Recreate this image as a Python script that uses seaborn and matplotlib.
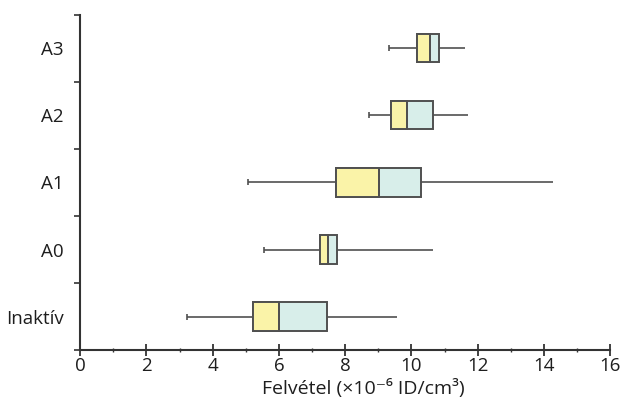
import numpy as np
import pandas as pd
import matplotlib
matplotlib.use("Agg")
import matplotlib.pyplot as plt
import seaborn as sns
from matplotlib.ticker import MultipleLocator

categories = ["A3", "A2", "A1", "A0", "Inaktív"]
whisk_lo = [9.33, 8.72, 5.07, 5.55, 3.23]
q1 = [10.17, 9.39, 7.73, 7.25, 5.22]
median = [10.57, 9.87, 9.03, 7.49, 6.0]
q3 = [10.84, 10.66, 10.29, 7.76, 7.46]
whisk_hi = [11.62, 11.71, 14.28, 10.66, 9.57]
xticks = [0, 2, 4, 6, 8, 10, 12, 14, 16]
xlabel = "Felvétel (×10\u207b\u2076 ID/cm\u00b3)"

YELLOW = "#faf3a8"
CYAN = "#d8eeea"
EDGE = "#505050"
AX = "#333333"
TXT = "#1e1e1e"

rows = []
for c, a, b, m, d, e in zip(categories, whisk_lo, q1, median, q3, whisk_hi):
    for v in (a, b, m, d, e):
        rows.append({"cat": c, "val": v})
df = pd.DataFrame(rows)

sns.set_theme(style="white")
plt.rcParams["font.family"] = ["Open Sans", "DejaVu Sans"]

fig, ax = plt.subplots(figsize=(6.22, 4.01), dpi=100)
fig.subplots_adjust(left=0.129, right=0.981, top=0.963, bottom=0.127)

LW = 1.4
sns.boxplot(data=df, x="val", y="cat", order=categories, orient="h",
            whis=(0, 100), width=0.42, color=CYAN, saturation=1,
            linecolor=EDGE, linewidth=LW, showcaps=False, ax=ax,
            boxprops=dict(facecolor=CYAN, edgecolor=EDGE, zorder=2),
            medianprops=dict(color=EDGE, linewidth=LW, zorder=4),
            whiskerprops=dict(color=EDGE, linewidth=1.2))

# yellow lower half (Q1 -> median)
ypos = np.arange(len(categories))
ax.barh(ypos, np.array(median) - np.array(q1), left=q1, height=0.42,
        color=YELLOW, edgecolor=EDGE, linewidth=LW, zorder=3)

# small end marks on left whiskers
ax.scatter(whisk_lo, ypos, marker="|", s=14, color=EDGE, linewidths=1.2, zorder=4)

ax.set_xlim(0, 16)
ax.set_ylim(4.5, -0.5)
ax.set_xticks(xticks)
ax.xaxis.set_minor_locator(MultipleLocator(1))
ax.set_yticks(ypos)
ax.set_yticklabels(categories)
ax.set_yticks(np.arange(-0.5, 4.6, 1.0), minor=True)

ax.tick_params(axis="x", which="major", direction="inout", length=8, width=1.3,
               color=AX, labelsize=13.5, pad=1, labelcolor=TXT, bottom=True)
ax.tick_params(axis="x", which="minor", direction="inout", length=3.5, width=1.0,
               color=AX, bottom=True)
ax.tick_params(axis="y", which="major", length=0, labelsize=13.5, pad=12,
               labelcolor=TXT)
ax.tick_params(axis="y", which="minor", direction="out", length=4, width=1.2,
               color=AX, left=True)

for s in ["top", "right"]:
    ax.spines[s].set_visible(False)
for s in ["left", "bottom"]:
    ax.spines[s].set_color(AX)
    ax.spines[s].set_linewidth(1.5)

ax.set_ylabel("")
ax.set_xlabel(xlabel, fontsize=14, color=TXT, labelpad=0)
ax.xaxis.set_label_coords(0.535, -0.085)

fig.savefig("out.png", dpi=100)
